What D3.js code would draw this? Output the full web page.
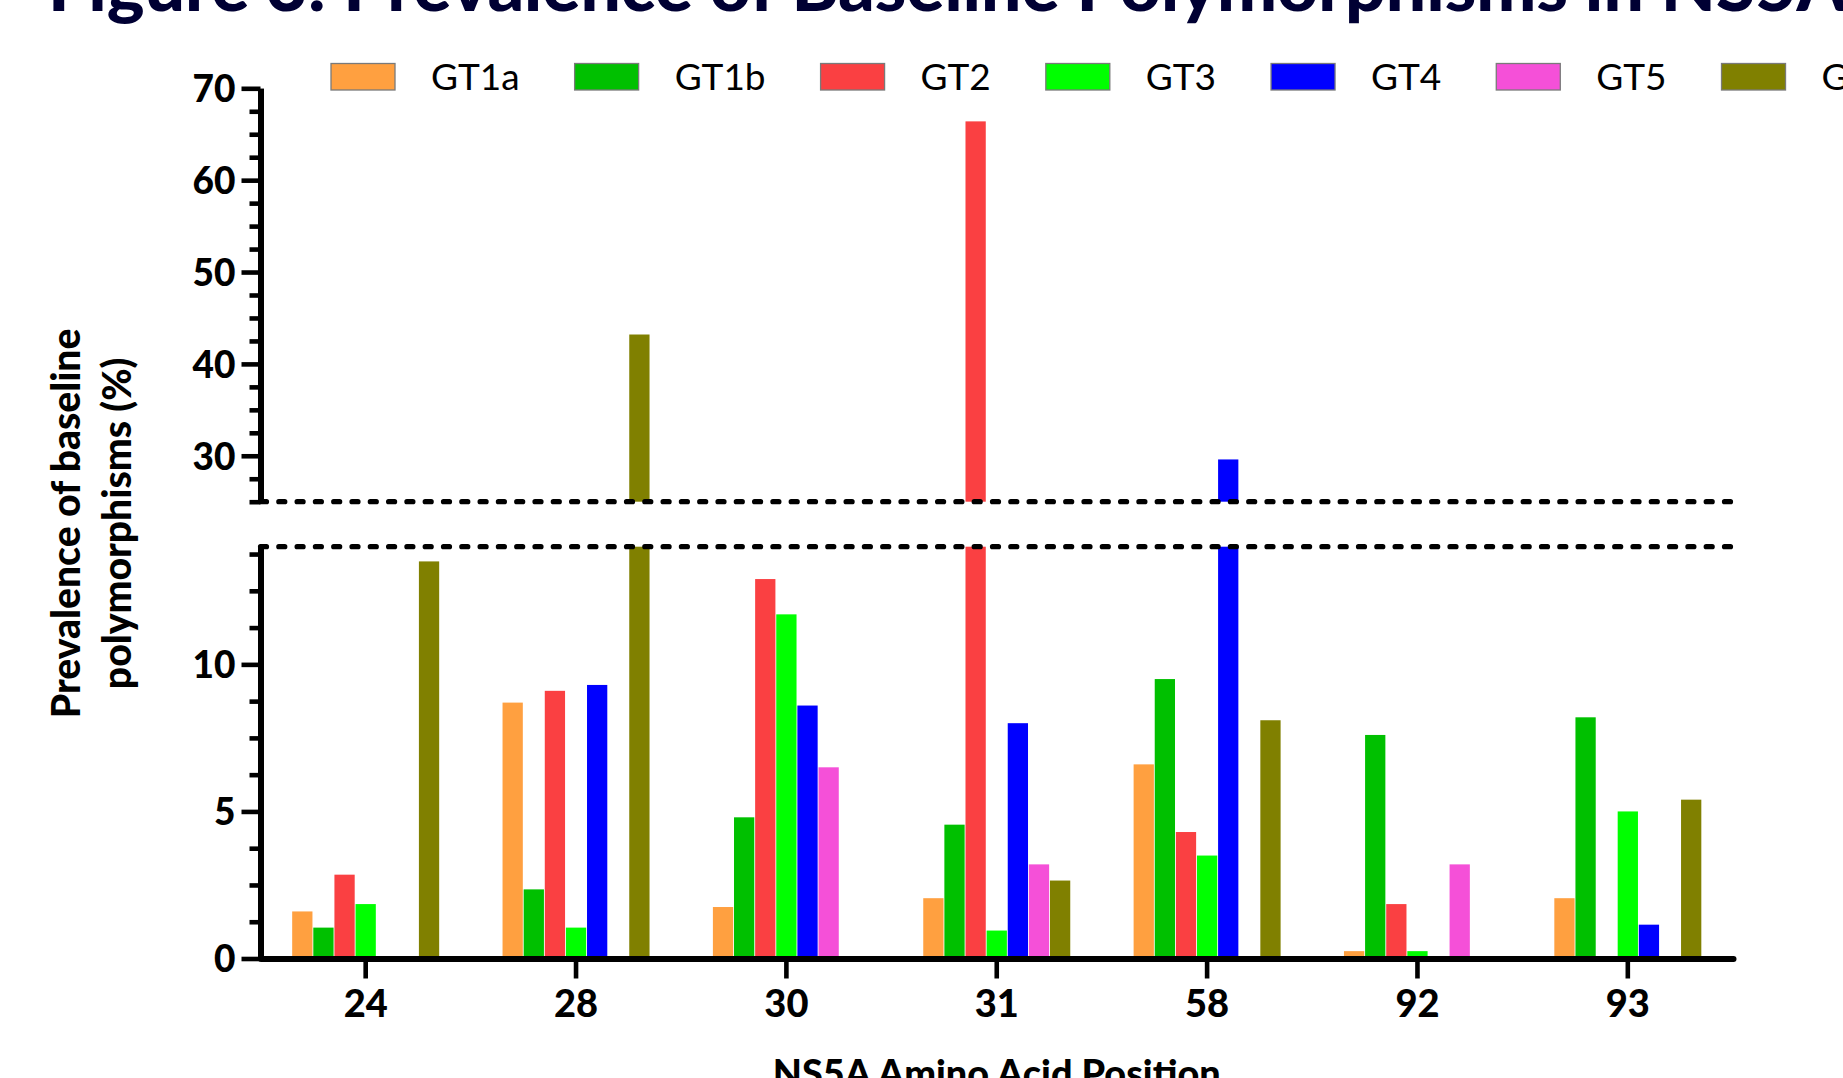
<!DOCTYPE html>
<html><head><meta charset="utf-8">
<script src="https://cdn.jsdelivr.net/npm/d3@7"></script>
<style>
body{margin:0;background:#fff;}
svg{display:block;}
</style>
</head><body>
<svg id="chart" width="1843" height="1078"></svg>
<script>
// ---- data ----
const positions = ["24","28","30","31","58","92","93"];
const genotypes = ["GT1a","GT1b","GT2","GT3","GT4","GT5","GT6"];
const colors    = ["#FFA040","#00C000","#FA4042","#00FF00","#0000FF","#F550D8","#808000"];
const gt1a = [1.6, 8.7, 1.75, 2.05, 6.6, 0.25, 2.05];
const gt1b = [1.05, 2.35, 4.8, 4.55, 9.5, 7.6, 8.2];
const gt2  = [2.85, 9.1, 12.9, 66.4, 4.3, 1.85, 0];
const gt3  = [1.85, 1.05, 11.7, 0.95, 3.5, 0.25, 5.0];
const gt4  = [0, 9.3, 8.6, 8.0, 29.6, 0, 1.15];
const gt5  = [0, 0, 6.5, 3.2, 0, 3.2, 0];
const gt6  = [13.5, 43.2, 0, 2.65, 8.1, 0, 5.4];
const seriesValues = [gt1a, gt1b, gt2, gt3, gt4, gt5, gt6];
const lowerMajor = [0, 5, 10];
const lowerMinor = [1.25, 2.5, 3.75, 6.25, 7.5, 8.75, 11.25, 12.5, 13.75];
const upperMajor = [30, 40, 50, 60, 70];
const upperMinor = [25, 27.5, 32.5, 35, 37.5, 42.5, 45, 47.5, 52.5, 55, 57.5, 62.5, 65, 67.5];
const lowerDomain = [0, 14];
const upperDomain = [25, 70];
const titleText = "Figure 3: Prevalence of Baseline Polymorphisms in NS5A";
const yTitle1 = "Prevalence of baseline";
const yTitle2 = "polymorphisms (%)";
const xTitle = "NS5A Amino Acid Position";

// ---- layout ----
const svg = d3.select("#chart");
const FONT = "Lato, 'Open Sans', sans-serif";
const xLeft = 260.5, xRight = 1733;

const x0 = d3.scaleBand().domain(positions).range([xLeft, xRight]).padding(0);
const x1 = d3.scaleBand().domain(genotypes).range([0, x0.bandwidth()]).paddingOuter(1.5).paddingInner(0.04);
const yLow = d3.scaleLinear().domain(lowerDomain).range([958.5, 546.7]);
const yUp  = d3.scaleLinear().domain(upperDomain).range([501.7, 88.3]);
const color = d3.scaleOrdinal().domain(genotypes).range(colors);

const rows = [];
positions.forEach((p, i) => genotypes.forEach((g, j) => rows.push({pos: p, gt: g, v: seriesValues[j][i]})));

// bars
const gBars = svg.append("g");
gBars.selectAll("rect.low").data(rows.filter(d => d.v > 0)).join("rect")
  .attr("class", "low")
  .attr("x", d => x0(d.pos) + x1(d.gt))
  .attr("width", x1.bandwidth())
  .attr("y", d => yLow(Math.min(d.v, lowerDomain[1])))
  .attr("height", d => yLow(0) - yLow(Math.min(d.v, lowerDomain[1])))
  .attr("fill", d => color(d.gt));
gBars.selectAll("rect.up").data(rows.filter(d => d.v > upperDomain[0])).join("rect")
  .attr("class", "up")
  .attr("x", d => x0(d.pos) + x1(d.gt))
  .attr("width", x1.bandwidth())
  .attr("y", d => yUp(d.v))
  .attr("height", d => yUp(upperDomain[0]) - yUp(d.v))
  .attr("fill", d => color(d.gt));

// break dashed lines
[yUp(upperDomain[0]), yLow(lowerDomain[1])].forEach(yy => {
  svg.append("line").attr("x1", xLeft).attr("x2", xRight).attr("y1", yy).attr("y2", yy)
    .attr("stroke", "#000").attr("stroke-width", 5.2)
    .attr("stroke-dasharray", "6 12.3").attr("stroke-linecap", "round");
});

function styleAxis(g, domainW, fsz) {
  g.select(".domain").attr("stroke", "#000").attr("stroke-width", domainW);
  g.selectAll(".tick line").attr("stroke", "#000").attr("stroke-width", 4.6);
  g.selectAll(".tick text").attr("fill", "#000").style("font-family", FONT)
    .style("font-weight", "900").style("font-size", fsz + "px");
}

// y axes (lower and upper segments)
[[yLow, lowerMajor, lowerMinor], [yUp, upperMajor, upperMinor]].forEach(([sc, maj, min]) => {
  const gMin = svg.append("g").attr("transform", `translate(${xLeft},0)`)
    .call(d3.axisLeft(sc).tickValues(min).tickSize(11).tickSizeOuter(0).tickFormat(""));
  styleAxis(gMin, 6, 37);
  const gMaj = svg.append("g").attr("transform", `translate(${xLeft},0)`)
    .call(d3.axisLeft(sc).tickValues(maj).tickSize(19).tickSizeOuter(0).tickPadding(6).tickFormat(d3.format("d")));
  styleAxis(gMaj, 6, 37);
  gMaj.selectAll(".tick text").attr("dy", "0.36em");
});

// x axis
const gx = svg.append("g").attr("transform", `translate(0,${yLow(0)})`)
  .call(d3.axisBottom(x0).tickSize(20).tickSizeOuter(0).tickPadding(12));
styleAxis(gx, 6, 38);
gx.select(".domain").attr("stroke-linecap", "round");

// fit helper
function fitWidth(sel, target, base) {
  sel.style("font-size", base + "px");
  const w = sel.node().getComputedTextLength();
  const s = base * target / w;
  sel.style("font-size", s + "px");
  return s;
}

// title
const title = svg.append("text").attr("x", 48).attr("y", 11)
  .style("font-family", FONT).style("font-weight", "900").attr("fill", "#000033")
  .style("font-size", "60px").text(titleText);
{
  const idx = titleText.indexOf("NS5A");
  const nx = title.node().getStartPositionOfChar(idx).x;
  title.style("font-size", (60 * (1661 - 48) / (nx - 48)) + "px");
}

// legend
const gLeg = svg.append("g");
let lx = 331;
genotypes.forEach(g => {
  gLeg.append("rect").attr("x", lx).attr("y", 63.5).attr("width", 64).attr("height", 26.5)
    .attr("fill", color(g)).attr("stroke", "#7a7a7a").attr("stroke-width", 1.3);
  const t = gLeg.append("text").attr("x", lx + 100).attr("y", 90)
    .style("font-family", FONT).style("font-size", "37px").attr("fill", "#000").text(g);
  lx = lx + 100 + t.node().getComputedTextLength() + 55;
});

// y title
const ymid = (yUp(70) + yLow(0)) / 2;
const yt1 = svg.append("text").attr("transform", `translate(80,${ymid}) rotate(-90)`)
  .attr("text-anchor", "middle").style("font-family", FONT).style("font-weight", "900")
  .attr("fill", "#000").text(yTitle1);
const fs = fitWidth(yt1, 390, 38);
svg.append("text").attr("transform", `translate(131,${ymid}) rotate(-90)`)
  .attr("text-anchor", "middle").style("font-family", FONT).style("font-weight", "900")
  .style("font-size", fs + "px").attr("fill", "#000").text(yTitle2);

// x title
const xt = svg.append("text").attr("x", (xLeft + xRight) / 2).attr("y", 1087)
  .attr("text-anchor", "middle").style("font-family", FONT).style("font-weight", "900")
  .attr("fill", "#000").text(xTitle);
fitWidth(xt, 448, 38);
</script>
</body></html>
